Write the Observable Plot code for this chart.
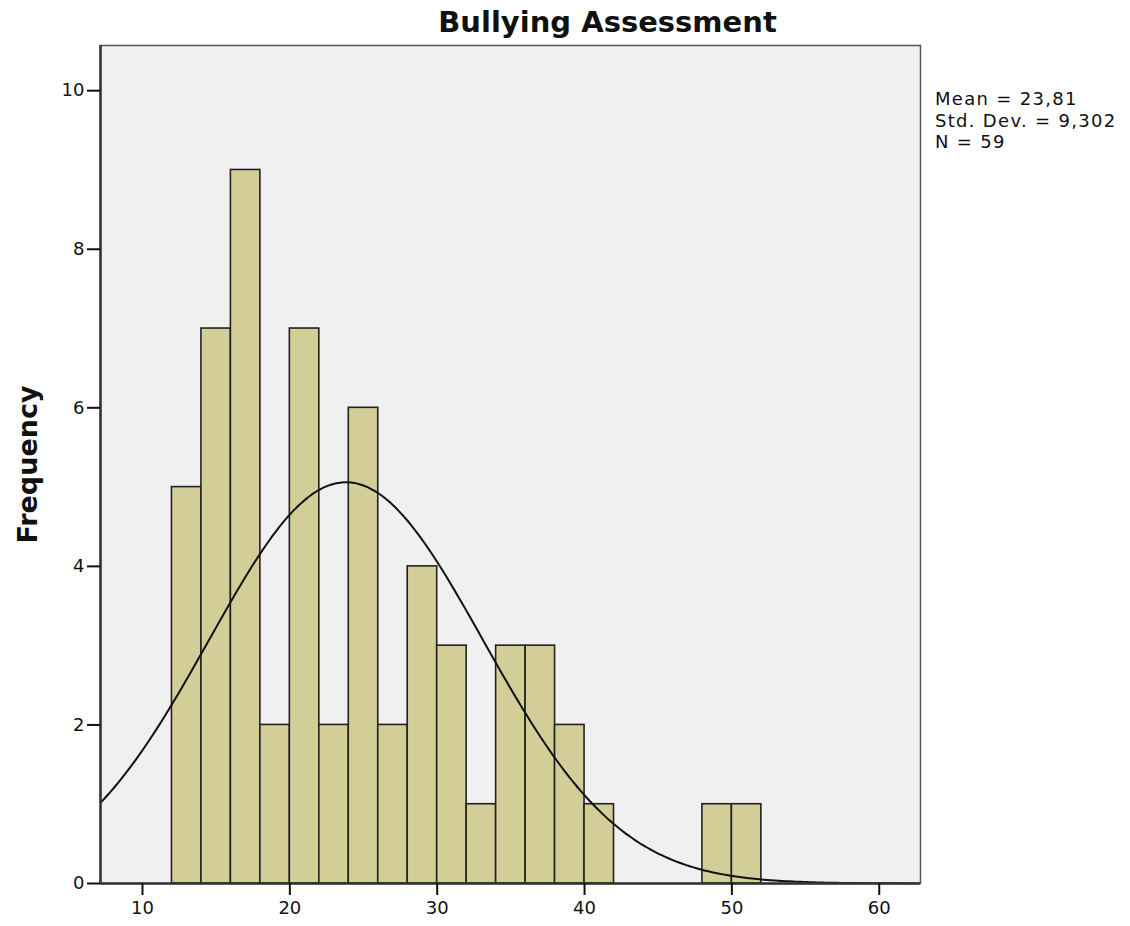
<!DOCTYPE html>
<html><head><meta charset="utf-8">
<script src="https://cdn.jsdelivr.net/npm/d3@7"></script>
<script src="https://cdn.jsdelivr.net/npm/@observablehq/plot@0.6"></script>
<style>
body{margin:0;background:#fff;font-family:"DejaVu Sans",sans-serif;}
#wrap{position:relative;width:1130px;height:926px;}
#title{position:absolute;top:5px;left:100px;width:1015px;text-align:center;font-weight:bold;font-size:29px;color:#111;}
#stats{position:absolute;left:935px;top:88px;font-size:18px;line-height:21.5px;letter-spacing:1.3px;color:#111;}
#chart{position:absolute;left:0;top:0;}
</style></head>
<body><div id="wrap"><div id="title">Bullying Assessment</div>
<div id="stats">Mean = 23,81<br>Std. Dev. = 9,302<br>N = 59</div>
<div id="chart"></div></div>
<script>
const binStart = [12,14,16,18,20,22,24,26,28,30,32,34,36,38,40,48,50];
const binEnd   = [14,16,18,20,22,24,26,28,30,32,34,36,38,40,42,50,52];
const counts   = [5,7,9,2,7,2,6,2,4,3,1,3,3,2,1,1,1];
const xTicks = [10,20,30,40,50,60];
const yTicks = [0,2,4,6,8,10];
const mean = 23.81, sd = 9.302, n = 59, binWidth = 2;

const bins = binStart.map((s,i)=>({x1:s,x2:binEnd[i],count:counts[i]}));
const curveX = d3.range(7.15, 62.8, 0.25);
const curve = curveX.map(x=>({x, y: n*binWidth/(sd*Math.sqrt(2*Math.PI))*Math.exp(-0.5*((x-mean)/sd)**2)}));

const chart = Plot.plot({
  width:1130, height:926,
  marginLeft:100, marginRight:210, marginTop:45, marginBottom:43,
  style:{fontFamily:"DejaVu Sans, sans-serif", fontSize:"18px", color:"#111", background:"transparent"},
  x:{domain:[7.15,62.8], label:null},
  y:{domain:[0,10.57], label:null},
  marks:[
    Plot.frame({fill:"#f0f0f0", stroke:null}),
    Plot.rectY(bins,{x1:"x1",x2:"x2",y:"count",fill:"#d3ce97",stroke:"#222",strokeWidth:1.6}),
    Plot.line(curve,{x:"x",y:"y",stroke:"#111",strokeWidth:2,clip:true,curve:"natural"}),
    Plot.frame({stroke:"#555",strokeWidth:1.5}),
    Plot.ruleY([0],{stroke:"#333",strokeWidth:2.5}),
    Plot.ruleX([7.15],{stroke:"#333",strokeWidth:2.5}),
    Plot.axisX({ticks:xTicks,tickSize:12,tickPadding:6,label:null,strokeWidth:2,fontSize:18,tickFormat:d=>d}),
    Plot.axisY({ticks:yTicks,tickSize:13,tickPadding:3,label:null,strokeWidth:2,fontSize:18}),
    Plot.text(["Frequency"],{frameAnchor:"left",dx:-72,rotate:-90,textAnchor:"middle",fontSize:27,fontWeight:"bold",fill:"#111"})
  ]
});
document.getElementById("chart").appendChild(chart);
</script></body></html>
